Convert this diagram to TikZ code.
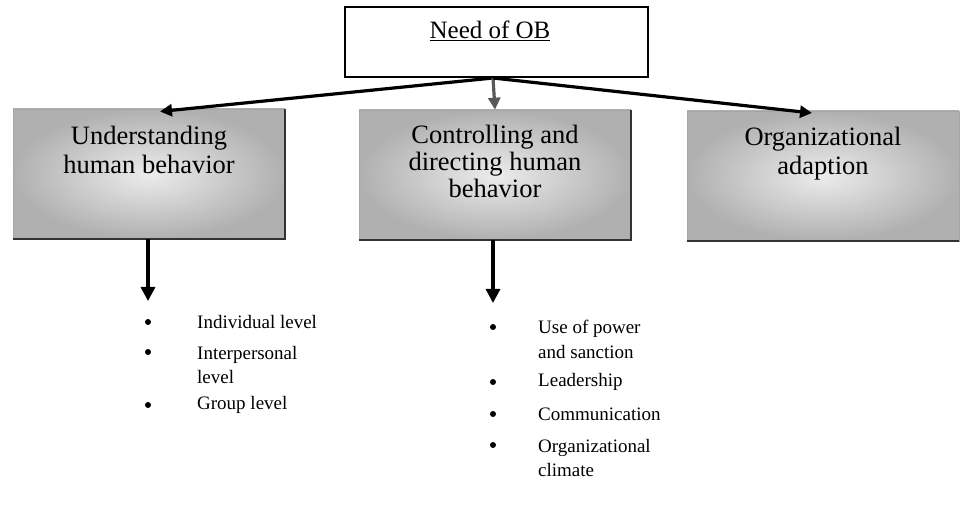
\documentclass[tikz,border=0pt]{standalone}
\usepackage{fontspec}
\setmainfont{Liberation Serif}
\usetikzlibrary{arrows.meta}
\begin{document}
\begin{tikzpicture}[x=1pt,y=-1pt,
  topbox/.style={draw=black,line width=1.3pt,fill=white,minimum width=303pt,minimum height=70pt,inner sep=0pt},
  areabox/.style={draw=gray!70,line width=0.6pt,inner color=gray!15,outer color=gray!62,
    minimum width=272pt,minimum height=130pt,inner sep=0pt},
  boxtext/.style={anchor=north,align=center,font=\fontsize{26.5}{29.5}\selectfont,inner sep=0pt},
  itemtext/.style={anchor=west,align=left,font=\fontsize{19}{24.5}\selectfont,inner sep=0pt},
  dot/.style={circle,fill=black,inner sep=0pt,minimum size=6pt},
  link/.style={line width=3.2pt,-{Triangle[length=12pt,width=12pt]}},
  drop/.style={line width=3.2pt,-{Triangle[length=14pt,width=14pt]}},
  shadowedge/.style={line width=1.8pt,black!80}]
\useasboundingbox (0,0) rectangle (967,510);

% root box
\node[topbox] (need) at (496.5,42) {};
\node[font=\fontsize{25}{28}\selectfont,inner sep=0pt] (needtxt) at (490,31) {\underline{Need of OB}};
\coordinate (hub) at (493,78);

% three area boxes
\node[areabox] (under) at (149,174) {};
\node[areabox] (ctrl)  at (495,175) {};
\node[areabox] (adapt) at (823,176) {};
\draw[shadowedge] (under.south west) -- (under.south east) -- (under.north east);
\draw[shadowedge] (ctrl.south west) -- (ctrl.south east) -- (ctrl.north east);
\draw[shadowedge] (adapt.south west) -- (adapt.south east);

\node[boxtext] (undertxt) at ([yshift=-17pt]under.north) {Understanding\\human behavior};
\node[boxtext,font=\fontsize{26.5}{27}\selectfont] (ctrltxt) at ([yshift=-15pt]ctrl.north) {Controlling and\\directing human\\behavior};
\node[boxtext] (adapttxt) at ([yshift=-16pt]adapt.north) {Organizational\\adaption};

% connectors from the root
\draw[link] (hub) -- (160,111.5);
\draw[link,gray!70!black] (hub) -- (ctrl.north);
\draw[link] (hub) -- (812,113);

% drops into the bullet lists
\coordinate (ulist) at (148,301);
\coordinate (clist) at (493,303);
\draw[drop] (ulist |- under.south) -- (ulist);
\draw[drop] (clist |- ctrl.south) -- (clist);

% first list
\node[dot] (b1) at (148,322) {};
\node[dot] (b2) at (148,352) {};
\node[dot] (b3) at (148,405) {};
\node[itemtext] (i1) at (197,322) {Individual level};
\node[itemtext,anchor=north west] (i2) at (197,346) {Interpersonal\\level};
\node[itemtext] (i3) at (197,405) {Group level};

% second list
\node[dot] (c1) at (493,327) {};
\node[dot] (c2) at (493,382) {};
\node[dot] (c3) at (493,414) {};
\node[dot] (c4) at (493,445) {};
\node[itemtext,anchor=north west] (j1) at (538,320) {Use of power\\and sanction};
\node[itemtext] (j2) at (538,382) {Leadership};
\node[itemtext] (j3) at (538,414) {Communication};
\node[itemtext,anchor=north west] (j4) at (538,439) {Organizational\\climate};
\end{tikzpicture}
\end{document}
